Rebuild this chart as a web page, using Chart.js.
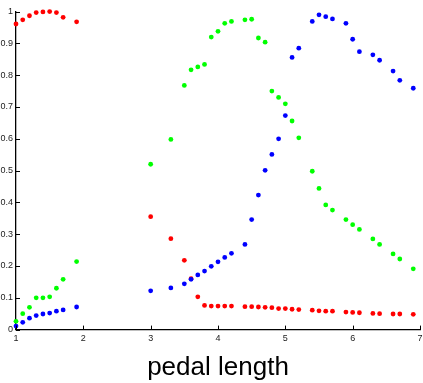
<!DOCTYPE html>
<html>
<head>
<meta charset="utf-8">
<script src="https://cdn.jsdelivr.net/npm/chart.js@4/dist/chart.umd.min.js"></script>
<style>
  html, body { margin: 0; padding: 0; background: #fff; }
  #wrap { width: 423px; height: 383px; }
</style>
</head>
<body>
<div id="wrap"><canvas id="myChart" width="423" height="383"></canvas></div>
<script>
// petal length values (x) and the three curves
const petalLength = [1.0, 1.1, 1.2, 1.3, 1.4, 1.5, 1.6, 1.7, 1.9,
  3.0, 3.3, 3.5, 3.6, 3.7, 3.8, 3.9, 4.0, 4.1, 4.2, 4.4, 4.5, 4.6, 4.7, 4.8, 4.9,
  5.0, 5.1, 5.2, 5.4, 5.5, 5.6, 5.7, 5.9, 6.0, 6.1, 6.3, 6.4, 6.6, 6.7, 6.9]

const redValues = [0.961, 0.974, 0.987, 0.997, 0.999, 1.0, 0.997, 0.982, 0.968,
  0.355, 0.286, 0.218, 0.16, 0.103, 0.076, 0.074, 0.074, 0.074, 0.074, 0.072, 0.072, 0.071, 0.070, 0.069, 0.066,
  0.066, 0.064, 0.063, 0.061, 0.059, 0.058, 0.058, 0.055, 0.054, 0.053, 0.051, 0.050, 0.049, 0.049, 0.048]

const greenValues = [0.026, 0.05, 0.07, 0.1, 0.1, 0.103, 0.13, 0.158, 0.214,
  0.52, 0.598, 0.768, 0.817, 0.826, 0.834, 0.92, 0.938, 0.963, 0.969, 0.974, 0.976, 0.917, 0.904, 0.75, 0.73,
  0.71, 0.656, 0.603, 0.498, 0.444, 0.392, 0.376, 0.346, 0.33, 0.315, 0.285, 0.268, 0.238, 0.222, 0.191]

const blueValues = [0.011, 0.023, 0.036, 0.044, 0.049, 0.052, 0.058, 0.062, 0.071,
  0.122, 0.131, 0.144, 0.158, 0.172, 0.184, 0.199, 0.213, 0.227, 0.24, 0.268, 0.346, 0.423, 0.501, 0.551, 0.6,
  0.673, 0.856, 0.885, 0.969, 0.99, 0.984, 0.977, 0.963, 0.913, 0.874, 0.864, 0.847, 0.813, 0.784, 0.759]

const xTickLabels = ['1', '2', '3', '4', '5', '6', '7']
const yTickLabels = ['0', '0.1', '0.2', '0.3', '0.4', '0.5', '0.6', '0.7', '0.8', '0.9', '1']

const toPoints = ys => petalLength.map((x, i) => ({ x: x, y: ys[i] }))

// small tick marks pointing into the plot
const innerTicks = {
  id: 'innerTicks',
  afterDraw(chart) {
    const ctx = chart.ctx
    const xs = chart.scales.x
    const ys = chart.scales.y
    const area = chart.chartArea
    ctx.save()
    ctx.strokeStyle = '#000'
    ctx.lineWidth = 1
    ctx.beginPath()
    xs.ticks.forEach(t => {
      const px = Math.round(xs.getPixelForValue(t.value)) + 0.5
      ctx.moveTo(px, area.bottom)
      ctx.lineTo(px, area.bottom - 4)
    })
    ys.ticks.forEach(t => {
      const py = Math.round(ys.getPixelForValue(t.value)) + 0.5
      ctx.moveTo(area.left, py)
      ctx.lineTo(area.left + 4, py)
    })
    ctx.stroke()
    ctx.restore()
  }
}

const dot = color => ({
  backgroundColor: color,
  borderWidth: 0,
  pointRadius: 2.4,
  pointHoverRadius: 2.4,
  clip: false
})

const ctx = document.getElementById('myChart').getContext('2d')
const myChart = new Chart(ctx, {
  type: 'scatter',
  data: {
    datasets: [
      { label: 'blue', data: toPoints(blueValues), ...dot('#0000ff') },
      { label: 'green', data: toPoints(greenValues), ...dot('#00ff00') },
      { label: 'red', data: toPoints(redValues), ...dot('#ff0000') }
    ]
  },
  options: {
    responsive: false,
    animation: false,
    devicePixelRatio: 1,
    layout: { padding: { top: 11.6, right: 3, left: 0, bottom: 0 } },
    plugins: { legend: { display: false }, tooltip: { enabled: false } },
    scales: {
      x: {
        type: 'linear',
        min: 1, max: 7,
        afterFit: s => { s.height = 53.4; s.paddingLeft = 0; s.paddingRight = 0 },
        border: { color: '#000', width: 1.3 },
        grid: { display: false, drawTicks: false },
        ticks: {
          stepSize: 1,
          padding: 4,
          color: '#222',
          font: { family: 'Liberation Sans', size: 9 },
          callback: (v, i) => xTickLabels[i]
        },
        title: {
          display: true,
          text: 'pedal length',
          color: '#000',
          padding: 0,
          font: { family: 'Liberation Sans', size: 26, lineHeight: 1.2 }
        }
      },
      y: {
        type: 'linear',
        min: 0, max: 1,
        afterFit: s => { s.width = 16; s.paddingTop = 0; s.paddingBottom = 0 },
        border: { color: '#000', width: 1.3 },
        grid: { display: false, drawTicks: false },
        ticks: {
          stepSize: 0.1,
          padding: 3,
          color: '#222',
          font: { family: 'Liberation Sans', size: 9 },
          callback: (v, i) => yTickLabels[i]
        }
      }
    }
  },
  plugins: [innerTicks]
})
</script>
</body>
</html>
